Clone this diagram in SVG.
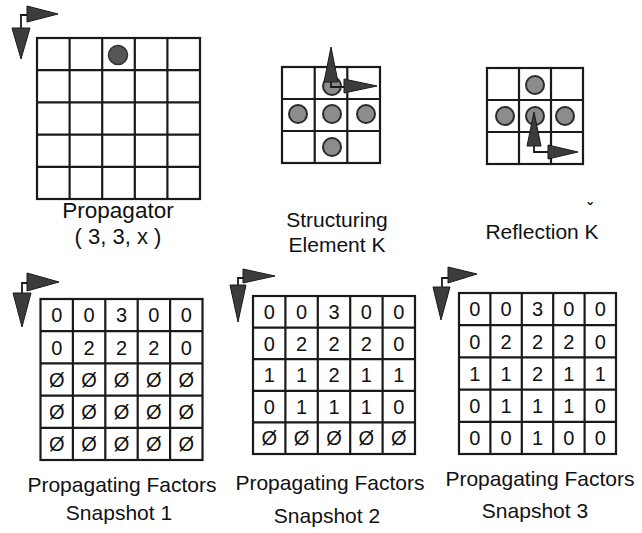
<svg xmlns="http://www.w3.org/2000/svg" width="642" height="533" viewBox="0 0 642 533">
<style>
.g{fill:none;stroke:#1a1a1a;stroke-width:2.2}
.ar{fill:#3c3c3c;stroke:#1a1a1a;stroke-width:1}
.ln{fill:none;stroke:#1a1a1a;stroke-width:1.8}
.dot{fill:#8c8c8c;stroke:#2a2a2a;stroke-width:2}
.pd{fill:#555;stroke:#333;stroke-width:1.5}
.lb{font-family:"Liberation Sans",Arial,sans-serif;font-size:21px;fill:#111;text-anchor:middle}
.d{font-family:"Liberation Sans",Arial,sans-serif;font-size:20px;fill:#111;text-anchor:middle}
</style>
<rect width="642" height="533" fill="#fff"/>

<g id="propagator">
  <path class="ar" d="M27,6 L58,14 L27,22 Z"/>
  <path class="ln" d="M27,15 H21 V28"/>
  <path class="ar" d="M12,28 L30,28 L21,59 Z"/>
  <rect class="g" x="37" y="38" width="163" height="161"/>
  <path class="g" d="M69.6,38V199M102.2,38V199M134.8,38V199M167.4,38V199M37,70.2H200M37,102.4H200M37,134.6H200M37,166.8H200"/>
  <circle class="pd" cx="118" cy="55" r="9.5"/>
  <text class="lb" x="118" y="218" style="font-size:22.5px">Propagator</text>
  <text class="lb" x="118" y="244" style="font-size:22px">( 3, 3, x )</text>
</g>

<g id="structuring">
  <rect class="g" x="282" y="67" width="98" height="96"/>
  <path class="g" d="M314.7,67V163M347.3,67V163M282,99H380M282,131H380"/>
  <circle class="dot" cx="332" cy="86" r="9"/>
  <circle class="dot" cx="298" cy="114" r="9"/>
  <circle class="dot" cx="332" cy="114" r="9"/>
  <circle class="dot" cx="366" cy="114" r="9"/>
  <circle class="dot" cx="332" cy="147" r="9"/>
  <path class="ar" d="M324,82 L331,47 L338,82 Z"/>
  <path class="ln" d="M331,82 V87 H344"/>
  <path class="ar" d="M344,79 L377,86 L344,93 Z"/>
  <text class="lb" x="337" y="227">Structuring</text>
  <text class="lb" x="337" y="252">Element K</text>
</g>

<g id="reflection">
  <rect class="g" x="487" y="68" width="96" height="96"/>
  <path class="g" d="M519,68V164M551,68V164M487,100H583M487,132H583"/>
  <circle class="dot" cx="535" cy="85" r="9"/>
  <circle class="dot" cx="505" cy="116" r="9"/>
  <circle class="dot" cx="535" cy="116" r="9"/>
  <circle class="dot" cx="565" cy="116" r="9"/>
  <path class="ar" d="M527,146 L534,112 L541,146 Z"/>
  <path class="ln" d="M534,146 V152 H548"/>
  <path class="ar" d="M548,145 L578,152 L548,159 Z"/>
  <text class="lb" x="542" y="239">Reflection K</text>
  <text class="lb" x="590" y="215" style="font-size:16px;font-weight:bold">ˇ</text>
</g>

<g id="snapshot1">
  <path class="ar" d="M27,273 L59,282 L27,291 Z"/>
  <path class="ln" d="M27,283 H22 V293"/>
  <path class="ar" d="M13,293 L31,293 L22,327 Z"/>
  <rect class="g" x="40.5" y="299" width="162" height="161"/>
  <path class="g" d="M72.9,299V460M105.3,299V460M137.7,299V460M170.1,299V460M40.5,331.2H202.5M40.5,363.4H202.5M40.5,395.6H202.5M40.5,427.8H202.5"/>
  <g class="d">
    <text x="56.7" y="322.3">0</text><text x="89.1" y="322.3">0</text><text x="121.5" y="322.3">3</text><text x="153.9" y="322.3">0</text><text x="186.3" y="322.3">0</text>
    <text x="56.7" y="354.5">0</text><text x="89.1" y="354.5">2</text><text x="121.5" y="354.5">2</text><text x="153.9" y="354.5">2</text><text x="186.3" y="354.5">0</text>
    <text x="56.7" y="386.7">Ø</text><text x="89.1" y="386.7">Ø</text><text x="121.5" y="386.7">Ø</text><text x="153.9" y="386.7">Ø</text><text x="186.3" y="386.7">Ø</text>
    <text x="56.7" y="418.9">Ø</text><text x="89.1" y="418.9">Ø</text><text x="121.5" y="418.9">Ø</text><text x="153.9" y="418.9">Ø</text><text x="186.3" y="418.9">Ø</text>
    <text x="56.7" y="451.1">Ø</text><text x="89.1" y="451.1">Ø</text><text x="121.5" y="451.1">Ø</text><text x="153.9" y="451.1">Ø</text><text x="186.3" y="451.1">Ø</text>
  </g>
  <text class="lb" x="122" y="492">Propagating Factors</text>
  <text class="lb" x="119" y="520">Snapshot 1</text>
</g>

<g id="snapshot2">
  <path class="ar" d="M243,269 L275,276 L243,283 Z"/>
  <path class="ln" d="M243,278 H238 V285"/>
  <path class="ar" d="M230,285 L246,285 L238,322 Z"/>
  <rect class="g" x="253" y="296" width="162" height="158"/>
  <path class="g" d="M285.4,296V454M317.8,296V454M350.2,296V454M382.6,296V454M253,327.6H415M253,359.2H415M253,390.8H415M253,422.4H415"/>
  <g class="d">
    <text x="269.2" y="319">0</text><text x="301.6" y="319">0</text><text x="334" y="319">3</text><text x="366.4" y="319">0</text><text x="398.8" y="319">0</text>
    <text x="269.2" y="350.6">0</text><text x="301.6" y="350.6">2</text><text x="334" y="350.6">2</text><text x="366.4" y="350.6">2</text><text x="398.8" y="350.6">0</text>
    <text x="269.2" y="382.2">1</text><text x="301.6" y="382.2">1</text><text x="334" y="382.2">2</text><text x="366.4" y="382.2">1</text><text x="398.8" y="382.2">1</text>
    <text x="269.2" y="413.8">0</text><text x="301.6" y="413.8">1</text><text x="334" y="413.8">1</text><text x="366.4" y="413.8">1</text><text x="398.8" y="413.8">0</text>
    <text x="269.2" y="445.4">Ø</text><text x="301.6" y="445.4">Ø</text><text x="334" y="445.4">Ø</text><text x="366.4" y="445.4">Ø</text><text x="398.8" y="445.4">Ø</text>
  </g>
  <text class="lb" x="330" y="490">Propagating Factors</text>
  <text class="lb" x="327" y="523">Snapshot 2</text>
</g>

<g id="snapshot3">
  <path class="ar" d="M448,267 L477,274 L448,283 Z"/>
  <path class="ln" d="M448,278 H442 V287"/>
  <path class="ar" d="M433,287 L450,287 L441,320 Z"/>
  <rect class="g" x="459" y="293" width="157" height="161"/>
  <path class="g" d="M490.4,293V454M521.8,293V454M553.2,293V454M584.6,293V454M459,325.2H616M459,357.4H616M459,389.6H616M459,421.8H616"/>
  <g class="d">
    <text x="474.7" y="316.3">0</text><text x="506.1" y="316.3">0</text><text x="537.5" y="316.3">3</text><text x="568.9" y="316.3">0</text><text x="600.3" y="316.3">0</text>
    <text x="474.7" y="348.5">0</text><text x="506.1" y="348.5">2</text><text x="537.5" y="348.5">2</text><text x="568.9" y="348.5">2</text><text x="600.3" y="348.5">0</text>
    <text x="474.7" y="380.7">1</text><text x="506.1" y="380.7">1</text><text x="537.5" y="380.7">2</text><text x="568.9" y="380.7">1</text><text x="600.3" y="380.7">1</text>
    <text x="474.7" y="412.9">0</text><text x="506.1" y="412.9">1</text><text x="537.5" y="412.9">1</text><text x="568.9" y="412.9">1</text><text x="600.3" y="412.9">0</text>
    <text x="474.7" y="445.1">0</text><text x="506.1" y="445.1">0</text><text x="537.5" y="445.1">1</text><text x="568.9" y="445.1">0</text><text x="600.3" y="445.1">0</text>
  </g>
  <text class="lb" x="540" y="486">Propagating Factors</text>
  <text class="lb" x="535" y="518">Snapshot 3</text>
</g>

<g id="connectors"></g>
</svg>
